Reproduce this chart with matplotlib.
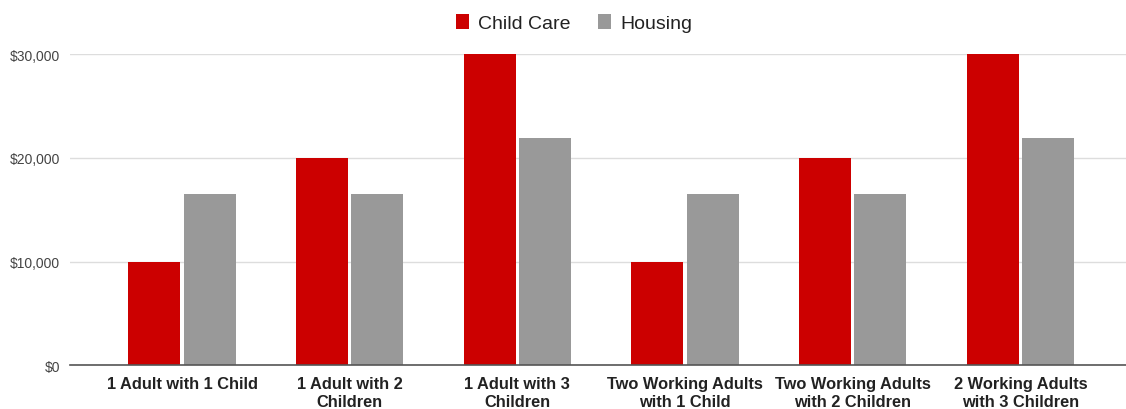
import numpy as np
import matplotlib.pyplot as plt
from matplotlib.ticker import FuncFormatter

# Household types and annual costs
households = ["1 Adult with 1 Child", "1 Adult with 2\nChildren", "1 Adult with 3\nChildren",
              "Two Working Adults\nwith 1 Child", "Two Working Adults\nwith 2 Children",
              "2 Working Adults\nwith 3 Children"]
child_care = [10000, 20000, 30000, 10000, 20000, 30000]
housing = [16550, 16550, 21900, 16550, 16550, 21900]

plt.rcParams["font.family"] = ["Liberation Sans", "DejaVu Sans"]

fig = plt.figure(figsize=(11.26, 4.10), dpi=100)
ax = fig.add_axes([0.062, 0.107, 0.938, 0.758])

x = np.arange(len(households))
w = 0.31
ax.bar(x - w / 2 - 0.01, child_care, width=w, color="#cc0000", label="Child Care", zorder=3)
ax.bar(x + w / 2 + 0.01, housing, width=w, color="#999999", label="Housing", zorder=3)

ax.set_xlim(-0.67, 5.63)
ax.set_ylim(0, 30000)
ax.set_yticks([0, 10000, 20000, 30000])
ax.yaxis.set_major_formatter(FuncFormatter(lambda v, p: f"${v:,.0f}"))
ax.grid(axis="y", color="#dddddd", linewidth=1, zorder=0)

ax.set_xticks(x)
ax.set_xticklabels(households, fontsize=11.8, fontweight="bold", color="#222222", linespacing=1.25)
ax.tick_params(axis="x", length=0, pad=8)
ax.tick_params(axis="y", length=0, labelsize=10, labelcolor="#444444", pad=7)

for side in ["top", "right", "left"]:
    ax.spines[side].set_visible(False)
ax.spines["bottom"].set_color("#555555")
ax.spines["bottom"].set_linewidth(1.2)
ax.spines["bottom"].set_zorder(4)

fig.legend(loc="upper center", bbox_to_anchor=(0.51, 1.005), ncol=2, frameon=False,
           fontsize=14, handlelength=0.65, handleheight=0.75, columnspacing=1.4,
           handletextpad=0.5, labelcolor="#222222")

fig.savefig("out.png", dpi=100)
